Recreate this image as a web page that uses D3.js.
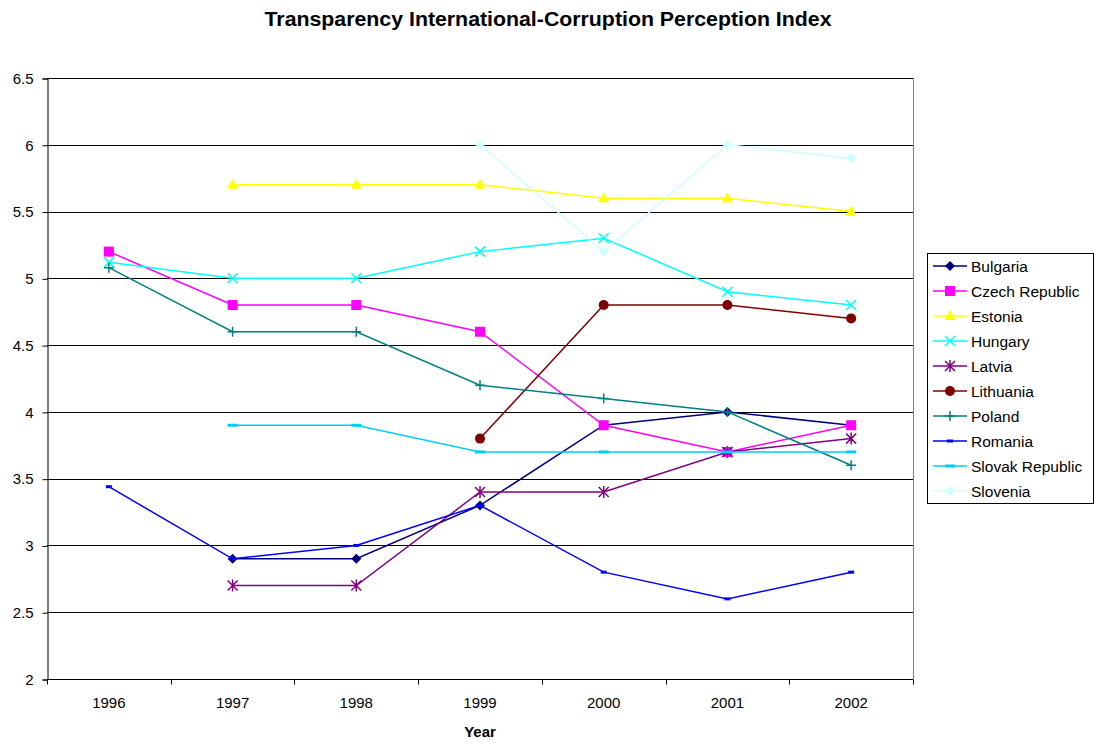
<!DOCTYPE html>
<html>
<head>
<meta charset="utf-8">
<script src="https://cdn.jsdelivr.net/npm/d3@7"></script>
<style>
  body { margin: 0; background: #fff; }
  text { font-family: "Liberation Sans", Arial, sans-serif; }
</style>
</head>
<body>
<svg id="chart" width="1095" height="745"></svg>
<script>
// data (null = no value that year)
const years = ["1996", "1997", "1998", "1999", "2000", "2001", "2002"];
const bulgaria = [null, 2.9, 2.9, 3.3, 3.9, 4.0, 3.9];
const czech = [5.2, 4.8, 4.8, 4.6, 3.9, 3.7, 3.9];
const estonia = [null, 5.7, 5.7, 5.7, 5.6, 5.6, 5.5];
const hungary = [5.12, 5.0, 5.0, 5.2, 5.3, 4.9, 4.8];
const latvia = [null, 2.7, 2.7, 3.4, 3.4, 3.7, 3.8];
const lithuania = [null, null, null, 3.8, 4.8, 4.8, 4.7];
const poland = [5.08, 4.6, 4.6, 4.2, 4.1, 4.0, 3.6];
const romania = [3.44, 2.9, 3.0, 3.3, 2.8, 2.6, 2.8];
const slovak = [null, 3.9, 3.9, 3.7, 3.7, 3.7, 3.7];
const slovenia = [null, null, null, 6.0, 5.2, 6.0, 5.9];
const yTicks = [2, 2.5, 3, 3.5, 4, 4.5, 5, 5.5, 6, 6.5];

const series = [
  {name: "Bulgaria", values: bulgaria, color: "#000080", marker: "diamond"},
  {name: "Czech Republic", values: czech, color: "#FF00FF", marker: "square"},
  {name: "Estonia", values: estonia, color: "#FFFF00", marker: "triangle"},
  {name: "Hungary", values: hungary, color: "#00FFFF", marker: "x"},
  {name: "Latvia", values: latvia, color: "#800080", marker: "star"},
  {name: "Lithuania", values: lithuania, color: "#800000", marker: "circle"},
  {name: "Poland", values: poland, color: "#008080", marker: "plus"},
  {name: "Romania", values: romania, color: "#0000FF", marker: "dash"},
  {name: "Slovak Republic", values: slovak, color: "#00CCFF", marker: "bar"},
  {name: "Slovenia", values: slovenia, color: "#CCFFFF", marker: "diamond"}
];

const svg = d3.select("#chart");
const plotL = 47, plotR = 913, plotT = 78, plotB = 679;

const x = d3.scaleBand().domain(years).range([plotL, plotR]);
const y = d3.scaleLinear().domain([2, 6.5]).range([plotB, plotT]);

// title
svg.append("text")
  .attr("x", 548).attr("y", 26)
  .attr("text-anchor", "middle")
  .attr("font-size", 20).attr("font-weight", "bold")
  .attr("textLength", 567).attr("lengthAdjust", "spacingAndGlyphs")
  .text("Transparency International-Corruption Perception Index");

// gridlines
svg.append("g").selectAll("line")
  .data(yTicks.filter(d => d > 2))
  .join("line")
  .attr("x1", plotL).attr("x2", plotR)
  .attr("y1", d => Math.round(y(d)) + 0.5).attr("y2", d => Math.round(y(d)) + 0.5)
  .attr("stroke", "#000").attr("stroke-width", 1);

// plot area right border
svg.append("line")
  .attr("x1", plotR + 0.5).attr("x2", plotR + 0.5)
  .attr("y1", plotT).attr("y2", plotB)
  .attr("stroke", "#808080");

// y axis
const yAxis = svg.append("g")
  .attr("transform", `translate(${plotL + 0.5},0.5)`)
  .call(d3.axisLeft(y).tickValues(yTicks).tickFormat(d3.format("")).tickSizeOuter(0).tickSize(5).tickPadding(9));
yAxis.select(".domain").attr("stroke", "#000");
yAxis.selectAll("text").attr("font-size", 15).attr("fill", "#000")
  .style("font-family", '"Liberation Sans", Arial, sans-serif');

// x axis, ticks between categories
const xAxis = svg.append("g").attr("transform", `translate(0,${plotB + 0.5})`);
xAxis.append("line").attr("x1", plotL).attr("x2", plotR).attr("stroke", "#000");
xAxis.selectAll("line.tk")
  .data(years.concat(["end"]))
  .join("line").attr("class", "tk")
  .attr("x1", (d, i) => Math.round(plotL + i * x.bandwidth()) + 0.5)
  .attr("x2", (d, i) => Math.round(plotL + i * x.bandwidth()) + 0.5)
  .attr("y1", 0).attr("y2", 5).attr("stroke", "#000");
xAxis.selectAll("text")
  .data(years)
  .join("text")
  .attr("x", d => x(d) + x.bandwidth() / 2)
  .attr("y", 28)
  .attr("text-anchor", "middle")
  .attr("font-size", 15)
  .text(d => d);

svg.append("text")
  .attr("x", 480).attr("y", 737)
  .attr("text-anchor", "middle")
  .attr("font-size", 15).attr("font-weight", "bold")
  .text("Year");

function drawMarker(g, type, color) {
  if (type === "diamond") {
    g.append("path").attr("d", "M0,-5L5,0L0,5L-5,0Z").attr("fill", color);
  } else if (type === "square") {
    g.append("rect").attr("x", -5).attr("y", -5).attr("width", 10).attr("height", 10).attr("fill", color);
  } else if (type === "triangle") {
    g.append("path").attr("d", "M0,-6L5.5,4L-5.5,4Z").attr("fill", color);
  } else if (type === "x") {
    g.append("path").attr("d", "M-5,-5L5,5M-5,5L5,-5").attr("stroke", color).attr("stroke-width", 1.5);
  } else if (type === "star") {
    g.append("path").attr("d", "M-5,-5L5,5M-5,5L5,-5M0,-6L0,6").attr("stroke", color).attr("stroke-width", 1.5);
  } else if (type === "circle") {
    g.append("circle").attr("r", 5).attr("fill", color);
  } else if (type === "plus") {
    g.append("path").attr("d", "M-5,0L5,0M0,-5L0,5").attr("stroke", color).attr("stroke-width", 1.5);
  } else if (type === "dash") {
    g.append("rect").attr("x", -3).attr("y", -1.5).attr("width", 6).attr("height", 3).attr("fill", color);
  } else if (type === "bar") {
    g.append("rect").attr("x", -5).attr("y", -1.5).attr("width", 10).attr("height", 3).attr("fill", color);
  }
}

const line = d3.line()
  .defined(d => d.v != null)
  .x(d => x(d.year) + x.bandwidth() / 2)
  .y(d => y(d.v));

series.forEach(s => {
  const pts = years.map((yr, i) => ({year: yr, v: s.values[i]}));
  svg.append("path")
    .datum(pts)
    .attr("d", line)
    .attr("fill", "none")
    .attr("stroke", s.color)
    .attr("stroke-width", 1.5);
  pts.filter(p => p.v != null).forEach(p => {
    const g = svg.append("g")
      .attr("transform", `translate(${x(p.year) + x.bandwidth() / 2},${y(p.v)})`);
    drawMarker(g, s.marker, s.color);
  });
});

// legend
const legend = svg.append("g");
legend.append("rect")
  .attr("x", 927.5).attr("y", 253.5).attr("width", 166).attr("height", 250)
  .attr("fill", "#fff").attr("stroke", "#000");
series.forEach((s, i) => {
  const ly = 266 + i * 25;
  legend.append("line")
    .attr("x1", 933).attr("x2", 967).attr("y1", ly).attr("y2", ly)
    .attr("stroke", s.color).attr("stroke-width", 1.5);
  drawMarker(legend.append("g").attr("transform", `translate(950,${ly})`), s.marker, s.color);
  legend.append("text")
    .attr("x", 971).attr("y", ly + 5.5)
    .attr("font-size", 15.5)
    .text(s.name);
});
</script>
</body>
</html>
